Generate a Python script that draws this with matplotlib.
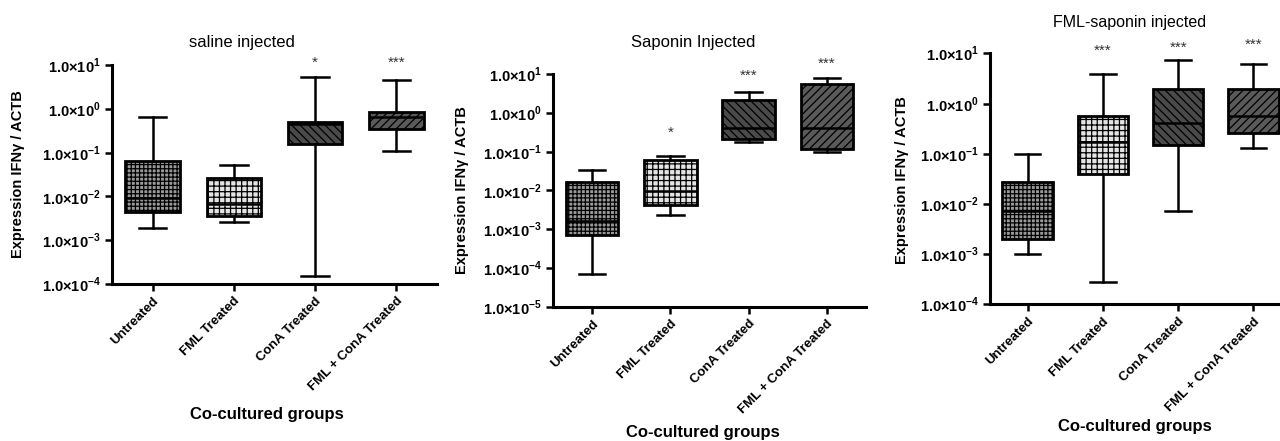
import numpy as np
import matplotlib
matplotlib.use("Agg")
import matplotlib.pyplot as plt

plt.rcParams['font.family'] = ['Liberation Sans', 'DejaVu Sans']
plt.rcParams['mathtext.fontset'] = 'custom'
plt.rcParams['mathtext.bf'] = 'Liberation Sans:bold'
plt.rcParams['mathtext.rm'] = 'Liberation Sans:bold'
plt.rcParams['hatch.linewidth'] = 0.9

groups = ["Untreated", "FML Treated", "ConA Treated", "FML + ConA Treated"]
titles = ["saline injected", "Saponin Injected", "FML-saponin injected"]

# box stats per panel: whisker low, q1, median, q3, whisker high
saline_low = [0.0019, 0.0026, 0.00015, 0.11]
saline_q1 = [0.0045, 0.0035, 0.158, 0.35]
saline_med = [0.009, 0.0066, 0.45, 0.65]
saline_q3 = [0.065, 0.027, 0.5, 0.85]
saline_high = [0.65, 0.052, 5.4, 4.5]

saponin_low = [0.00007, 0.0023, 0.18, 0.10]
saponin_q1 = [0.0007, 0.0042, 0.21, 0.117]
saponin_med = [0.0016, 0.0094, 0.40, 0.41]
saponin_q3 = [0.0165, 0.06, 2.1, 5.4]
saponin_high = [0.034, 0.077, 3.4, 7.9]

fmlsap_low = [0.001, 0.00028, 0.0073, 0.13]
fmlsap_q1 = [0.002, 0.04, 0.148, 0.26]
fmlsap_med = [0.0073, 0.17, 0.41, 0.56]
fmlsap_q3 = [0.027, 0.56, 1.95, 1.95]
fmlsap_high = [0.10, 3.8, 7.4, 6.0]

# significance marks and where they sit (data units)
saline_stars = ["", "", "*", "***"]
saline_star_y = [None, None, 11, 11]
saponin_stars = ["", "*", "***", "***"]
saponin_star_y = [None, 0.3, 9, 18]
fmlsap_stars = ["", "***", "***", "***"]
fmlsap_star_y = [None, 11, 13, 15]

panels = [
    (saline_low, saline_q1, saline_med, saline_q3, saline_high, saline_stars, saline_star_y),
    (saponin_low, saponin_q1, saponin_med, saponin_q3, saponin_high, saponin_stars, saponin_star_y),
    (fmlsap_low, fmlsap_q1, fmlsap_med, fmlsap_q3, fmlsap_high, fmlsap_stars, fmlsap_star_y),
]

W, H = 1280, 441
fig = plt.figure(figsize=(12.8, 4.41), dpi=100)

# pixel boxes (left, top, right, bottom) and y range exponent
ax_px = [(112, 65, 437, 284), (553, 74, 866, 306.7), (990, 53.3, 1291, 304.3)]
ylims = [(-4, 1), (-5, 1), (-4, 1)]
title_px = [(242, 43, 12), (693, 42, 12), (1130, 23, 11.5)]
xlabel_px = [(267, 415), (703, 433), (1135, 427)]
ylabel_px = [(18, 174), (462, 190), (902, 180)]

faces = ['#9a9a9a', '#e4e4e4', '#4a4a4a', '#5a5a5a']
hatches = ['++++', '+++', '\\\\\\\\', '////']

for k, (low, q1, med, q3, high, stars, star_y) in enumerate(panels):
    l, t, r, b = ax_px[k]
    ax = fig.add_axes([l / W, 1 - b / H, (r - l) / W, (b - t) / H])
    stats = []
    for i in range(len(groups)):
        stats.append(dict(whislo=low[i], q1=q1[i], med=med[i], q3=q3[i], whishi=high[i], fliers=[]))
    bp = ax.bxp(stats, positions=range(len(groups)), widths=0.67, capwidths=0.34,
                patch_artist=True, showfliers=False,
                boxprops=dict(linewidth=2.0, edgecolor='black'),
                whiskerprops=dict(linewidth=1.8, color='black'),
                capprops=dict(linewidth=1.8, color='black'),
                medianprops=dict(linewidth=1.8, color='black'))
    for i, patch in enumerate(bp['boxes']):
        patch.set_facecolor(faces[i])
        patch.set_hatch(hatches[i])

    for i, s in enumerate(stars):
        if s:
            ax.text(i, star_y[i], s, ha='center', va='center', fontsize=11,
                    color='#333333', clip_on=False)

    ax.set_yscale('log')
    lo, hi = ylims[k]
    ax.set_ylim(10.0 ** lo, 10.0 ** hi)
    ax.set_xlim(-0.5, 3.5)
    exps = list(range(lo, hi + 1))
    ax.set_yticks([10.0 ** e for e in exps])
    ax.set_yticklabels(['1.0×10$^{\\mathbf{%d}}$' % e for e in exps],
                       fontsize=10.5, fontweight='bold')
    ax.minorticks_off()
    ax.set_xticks(range(len(groups)))
    ax.set_xticklabels(groups, rotation=45, ha='right', rotation_mode='anchor',
                       fontsize=9.5, fontweight='bold')
    ax.tick_params(axis='both', direction='out', length=5, width=1.8, pad=3)
    for side in ['top', 'right']:
        ax.spines[side].set_visible(False)
    for side in ['left', 'bottom']:
        ax.spines[side].set_linewidth(2.2)
    ax.patch.set_alpha(0)

    tx, ty, ts = title_px[k]
    fig.text(tx / W, 1 - ty / H, titles[k], ha='center', va='center', fontsize=ts)
    xx, xy = xlabel_px[k]
    fig.text(xx / W, 1 - xy / H, "Co-cultured groups", ha='center', va='center',
             fontsize=12, fontweight='bold')
    yx, yy = ylabel_px[k]
    fig.text(yx / W, 1 - yy / H, "Expression IFNγ / ACTB", ha='center', va='center',
             rotation=90, fontsize=10.5, fontweight='bold')

fig.savefig("out.png", dpi=100)
